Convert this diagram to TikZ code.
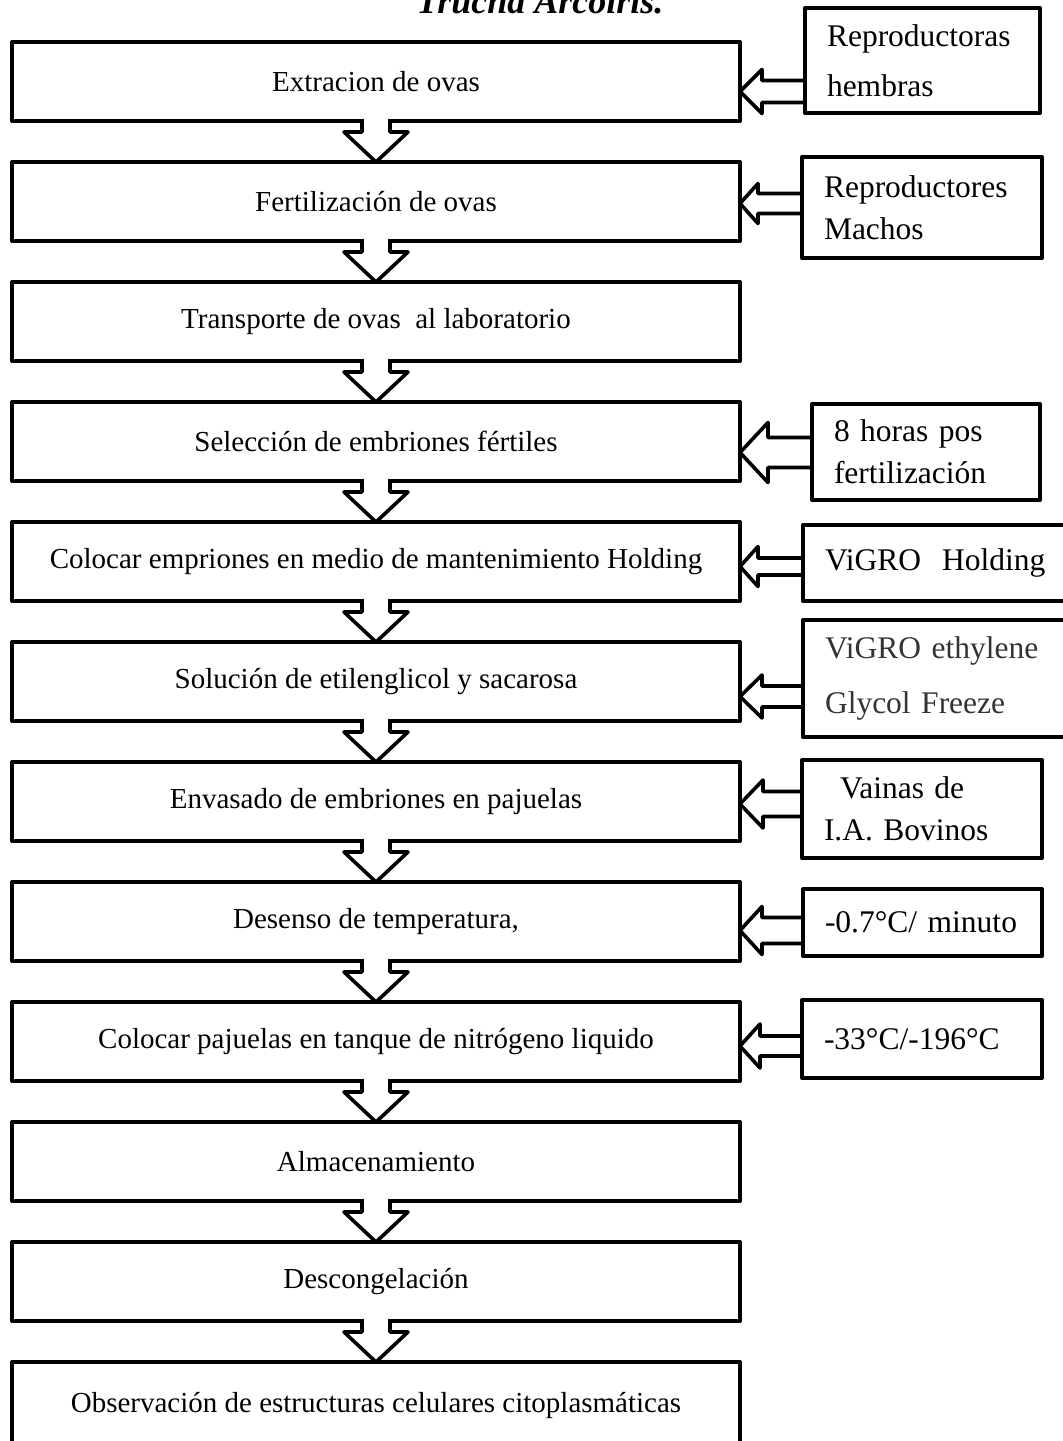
\documentclass[tikz,border=0pt]{standalone}
\usepackage{fontspec}
\setmainfont{Liberation Serif}
\usetikzlibrary{positioning, calc}
\tikzset{
  % Main process steps
  paso/.style={
    draw, rectangle, line width=2pt, line join=round,
    minimum width=364pt, minimum height=39.5pt,
    inner sep=0pt, outer sep=0pt, align=center,
    font=\fontsize{14.5}{17}\selectfont
  },
  % Inputs on the right
  insumo/.style={
    draw, rectangle, line width=2pt, line join=round,
    inner xsep=11pt, inner ysep=0pt, outer sep=0pt, align=left,
    font=\fontsize{15.75}{21}\selectfont
  },
  titulo/.style={
    anchor=base, inner sep=0pt,
    font=\fontsize{18}{20}\selectfont\bfseries\itshape
  },
  % Block arrows
  downarr/.style={draw, fill=white, line width=1.8pt, line join=round},
  sidearr/.style={draw, line width=1.8pt, line join=round},
}
\newcommand{\downblock}[2]{%
  \draw[downarr] ($(#1.south)+(-14,-2)$) -- ($(#2.north)+(-14,-30)$)
    -- ($(#2.north)+(-32,-30)$) -- (#2.north) -- ($(#2.north)+(32,-30)$)
    -- ($(#2.north)+(14,-30)$) -- ($(#1.south)+(14,-2)$);
}
\newcommand{\sideblock}[6]{%
  \coordinate (tip) at ($(#2.east)+(0,#3)$);
  \coordinate (tail) at (#1.west |- tip);
  \draw[sidearr] ($(tail)+(0,-#4)$) -- ($(tip)+(#6,-#4)$) -- ($(tip)+(#6,-#5)$)
    -- (tip) -- ($(tip)+(#6,#5)$) -- ($(tip)+(#6,#4)$) -- ($(tail)+(0,#4)$);
}

\begin{document}
\begin{tikzpicture}[x=0.5pt, y=-0.5pt, node distance=20.5pt]
  \useasboundingbox (0,0) rectangle (1062,1441);

  %% ── Title (cut at the top) ──
  \node[titulo] (title) at (540,13) {Trucha Arcoiris.};

  %% ── Process steps ──
  \node[paso] (extraccion) at (376,81.5) {Extracion de ovas};
  \node[paso, below=of extraccion] (fertil)     {Fertilización de ovas};
  \node[paso, below=of fertil]     (transporte) {Transporte de ovas~ al laboratorio};
  \node[paso, below=of transporte] (seleccion)  {Selección de embriones fértiles};
  \node[paso, below=of seleccion]  (holding)    {Colocar empriones en medio de mantenimiento Holding};
  \node[paso, below=of holding]    (solucion)   {Solución de etilenglicol y sacarosa};
  \node[paso, below=of solucion]   (envasado)   {Envasado de embriones en pajuelas};
  \node[paso, below=of envasado]   (descenso)   {Desenso de temperatura,};
  \node[paso, below=of descenso]   (nitrogeno)  {Colocar pajuelas en tanque de nitrógeno liquido};
  \node[paso, below=of nitrogeno]  (almacen)    {Almacenamiento};
  \node[paso, below=of almacen]    (descong)    {Descongelación};
  \node[paso, below=of descong, minimum height=43pt] (observ)
        {Observación de estructuras celulares citoplasmáticas};

  %% ── Inputs ──
  \node[insumo, minimum width=117.5pt, minimum height=52.5pt, text width=95.5pt,
        font=\fontsize{15.75}{25}\selectfont] (hembras) at (922.5,60.5) {Reproductoras\\hembras};
  \node[insumo, minimum width=120pt, minimum height=50.5pt, text width=98pt]
        (machos) at (922,207.5) {Reproductores\\Machos};
  \node[insumo, minimum width=114pt, minimum height=48pt, text width=92pt]
        (horas) at (926,452) {8 horas pos\\fertilización};
  \node[insumo, minimum width=138.5pt, minimum height=38pt, text width=116.5pt]
        (vigroH) at (941.5,563) {ViGRO~ Holding};
  \node[insumo, minimum width=138.5pt, minimum height=58.5pt, text width=116.5pt,
        font=\fontsize{15.75}{27.5}\selectfont, text=black!80] (vigroE) at (941.5,678.5)
        {ViGRO ethylene\\Glycol Freeze};
  \node[insumo, minimum width=120pt, minimum height=49pt, text width=98pt]
        (vainas) at (922,809) {\hspace*{8pt}Vainas de\\I.A. Bovinos};
  \node[insumo, minimum width=119.5pt, minimum height=33.5pt, text width=97.5pt]
        (tasa) at (922.5,922.5) {-0.7°C/ minuto};
  \node[insumo, minimum width=120pt, minimum height=39pt, text width=98pt]
        (temps) at (922,1039) {-33°C/-196°C};

  %% ── Down arrows ──
  \foreach \a/\b in {extraccion/fertil, fertil/transporte, transporte/seleccion,
                     seleccion/holding, holding/solucion, solucion/envasado,
                     envasado/descenso, descenso/nitrogeno, nitrogeno/almacen,
                     almacen/descong, descong/observ}
    \downblock{\a}{\b};

  %% ── Input arrows ──
  \sideblock{hembras}{extraccion}{10}{11}{22}{22}
  \sideblock{machos}{fertil}{2}{10}{20}{18}
  \sideblock{horas}{seleccion}{11}{15}{30}{28}
  \sideblock{vigroH}{holding}{5}{8.5}{20}{18}
  \sideblock{vigroE}{solucion}{15}{10.5}{21.5}{22}
  \sideblock{vainas}{envasado}{2.5}{12.5}{24}{23}
  \sideblock{tasa}{descenso}{9}{13}{24}{22}
  \sideblock{temps}{nitrogeno}{4.5}{10}{22}{20}

\end{tikzpicture}
\end{document}
